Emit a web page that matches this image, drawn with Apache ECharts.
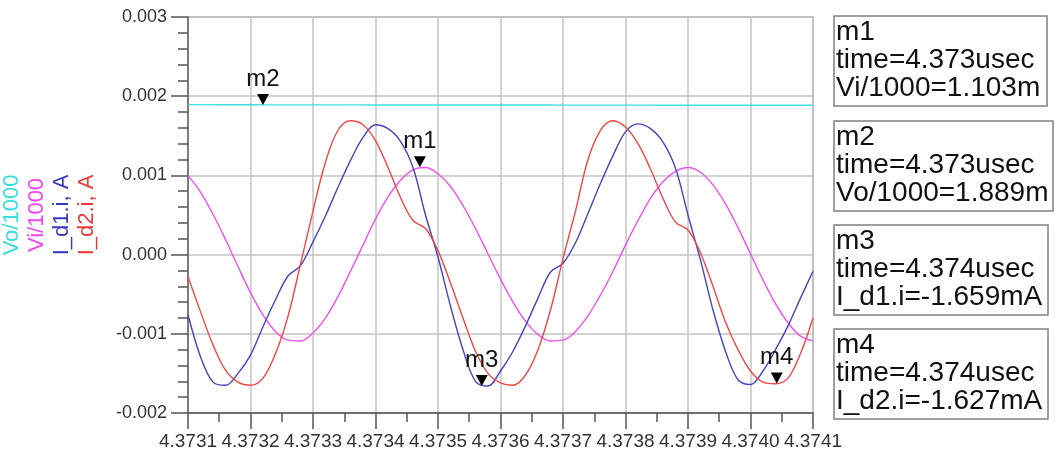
<!DOCTYPE html>
<html>
<head>
<meta charset="utf-8">
<script src="https://cdn.jsdelivr.net/npm/echarts@6/dist/echarts.min.js"></script>
<style>
html,body{margin:0;padding:0;background:#fff;}
#c{width:1063px;height:471px;}
</style>
</head>
<body>
<div id="c"></div>
<script>
// time axis samples (usec)
const times = [4.37310,4.37312,4.37314,4.37316,4.37318,4.37320,4.37322,4.37324,4.37326,4.37328,
4.37330,4.37332,4.37334,4.37336,4.37338,4.37340,4.37342,4.37344,4.37346,4.37348,
4.37350,4.37352,4.37354,4.37356,4.37358,4.37360,4.37362,4.37364,4.37366,4.37368,
4.37370,4.37372,4.37374,4.37376,4.37378,4.37380,4.37382,4.37384,4.37386,4.37388,
4.37390,4.37392,4.37394,4.37396,4.37398,4.37400,4.37402,4.37404,4.37406,4.37408,
4.37410];
// values in milli-units (x 0.001)
const voVals = [1.893,1.893,1.893,1.892,1.892,1.892,1.891,1.891,1.891,1.891,
1.890,1.890,1.890,1.890,1.890,1.889,1.889,1.889,1.889,1.889,
1.889,1.889,1.888,1.888,1.888,1.888,1.888,1.888,1.888,1.888,
1.887,1.887,1.887,1.887,1.887,1.887,1.887,1.887,1.886,1.886,
1.886,1.886,1.886,1.886,1.886,1.886,1.886,1.885,1.885,1.885,
1.885];
const viVals = [1.00,0.79,0.51,0.19,-0.15,-0.48,-0.76,-0.97,-1.08,-1.09,
-0.99,-0.80,-0.53,-0.21,0.12,0.45,0.73,0.94,1.07,1.10,
1.02,0.86,0.62,0.33,0.01,-0.31,-0.60,-0.84,-1.01,-1.09,
-1.08,-0.97,-0.77,-0.51,-0.21,0.12,0.43,0.71,0.92,1.05,
1.10,1.04,0.88,0.64,0.34,0.01,-0.32,-0.62,-0.86,-1.03,
-1.09];
const id1Vals = [-0.76,-1.29,-1.61,-1.65,-1.50,-1.27,-0.91,-0.57,-0.27,-0.14,
0.16,0.49,0.85,1.19,1.48,1.64,1.59,1.43,1.10,0.50,
-0.03,-0.65,-1.20,-1.60,-1.66,-1.47,-1.22,-0.90,-0.55,-0.22,
-0.11,0.15,0.52,0.90,1.25,1.55,1.65,1.59,1.42,1.09,
0.50,-0.07,-0.70,-1.22,-1.58,-1.64,-1.47,-1.20,-0.90,-0.55,
-0.21];
const id2Vals = [-0.28,-0.72,-1.14,-1.46,-1.61,-1.65,-1.56,-1.25,-0.78,-0.12,
0.55,1.17,1.57,1.69,1.64,1.44,1.10,0.72,0.43,0.33,
0.05,-0.36,-0.80,-1.22,-1.50,-1.62,-1.65,-1.52,-1.20,-0.70,
-0.05,0.55,1.20,1.57,1.69,1.61,1.40,1.08,0.71,0.41,
0.31,0.02,-0.40,-0.85,-1.20,-1.47,-1.61,-1.63,-1.56,-1.25,
-0.80];

const seriesNames = ['Vo/1000','Vi/1000','I_d1.i, A','I_d2.i, A'];
const seriesColors = ['#3fe0e0','#f050f0','#4444c4','#f04848'];

// markers
const markerNames = ['m1','m2','m3','m4'];
const markerSeries = [1,0,2,3];
const markerTimes = [4.373471,4.37322,4.373570,4.374042];
const markerValues = [1.103,1.889,-1.659,-1.627];
const markerTimeText = ['time=4.373usec','time=4.373usec','time=4.374usec','time=4.374usec'];
const markerReadout = ['Vi/1000=1.103m','Vo/1000=1.889m','I_d1.i=-1.659mA','I_d2.i=-1.627mA'];

const xTicks = {min:4.3731,max:4.3741,interval:0.0001};
const yTicks = {min:-0.002,max:0.003,interval:0.001};

const FONT = '"Liberation Sans", Arial, sans-serif';
const allVals = [voVals, viVals, id1Vals, id2Vals];

const series = allVals.map((vals, si) => {
  const s = {
    name: seriesNames[si],
    type: 'line',
    symbol: 'none',
    smooth: 0.35,
    lineStyle: {color: seriesColors[si], width: 1.4},
    data: times.map((t, i) => [t, vals[i] / 1000]),
    z: 3
  };
  const mp = [];
  markerSeries.forEach((ms, mi) => {
    if (ms === si) {
      mp.push({
        name: markerNames[mi],
        coord: [markerTimes[mi], markerValues[mi] / 1000],
        label: {formatter: markerNames[mi]}
      });
    }
  });
  if (mp.length) {
    s.markPoint = {
      symbol: 'triangle',
      symbolSize: [12, 11],
      symbolRotate: 180,
      symbolOffset: [0, '-50%'],
      itemStyle: {color: '#000'},
      label: {show: true, position: 'top', distance: 3, color: '#111', fontSize: 24, fontFamily: FONT},
      data: mp
    };
  }
  return s;
});

// marker readout boxes on the right
const boxTops = [16, 121, 225, 329];
const boxWidths = [213, 219, 214, 214];
const graphics = [];
markerNames.forEach((n, i) => {
  graphics.push({
    type: 'rect', x: 834, y: boxTops[i],
    shape: {x: 0, y: 0, width: boxWidths[i], height: 90},
    style: {fill: '#fff', stroke: '#808080', lineWidth: 1.5}
  });
  graphics.push({
    type: 'text', x: 836, y: boxTops[i] + 2,
    style: {text: n + '\n' + markerTimeText[i] + '\n' + markerReadout[i],
      fill: '#111', fontSize: 28, fontFamily: FONT, lineHeight: 28}
  });
});

const chart = echarts.init(document.getElementById('c'), null, {renderer: 'canvas'});
chart.setOption({
  animation: false,
  backgroundColor: '#fff',
  grid: {left: 188, right: 250, top: 17, bottom: 58, show: true, borderColor: '#999', borderWidth: 1.5,
    outerBoundsMode: 'none', containLabel: false},
  xAxis: {
    type: 'value', min: xTicks.min, max: xTicks.max, interval: xTicks.interval,
    axisLine: {show: true, onZero: false, lineStyle: {color: '#555', width: 1.5}},
    axisTick: {show: true, inside: false, length: 16, lineStyle: {color: '#555', width: 1.5}},
    minorTick: {show: true, splitNumber: 2, length: 9, lineStyle: {color: '#555', width: 1.5}},
    splitLine: {show: true, lineStyle: {color: '#c4c4c4', width: 1.5}},
    axisLabel: {color: '#333', fontSize: 19, fontFamily: FONT, margin: 19,
      formatter: v => v.toFixed(4), showMinLabel: true, showMaxLabel: true}
  },
  yAxis: {
    type: 'value', min: yTicks.min, max: yTicks.max, interval: yTicks.interval,
    axisLine: {show: true, onZero: false, lineStyle: {color: '#666', width: 1.5}},
    axisTick: {show: true, inside: false, length: 17, lineStyle: {color: '#555', width: 1.5}},
    minorTick: {show: true, splitNumber: 5, length: 10, lineStyle: {color: '#555', width: 1.5}},
    splitLine: {show: true, lineStyle: {color: '#c4c4c4', width: 1.5}},
    axisLabel: {color: '#333', fontSize: 18, fontFamily: FONT, margin: 21,
      formatter: v => v.toFixed(3)},
    name: seriesNames.map((n, i) => '{s' + i + '|' + n + '}').join('\n'),
    nameLocation: 'middle',
    nameRotate: 90,
    nameGap: 89,
    nameTextStyle: {
      fontSize: 22, fontFamily: FONT, lineHeight: 25,
      rich: {
        s0: {color: '#33dede', fontSize: 22, fontFamily: FONT, lineHeight: 25},
        s1: {color: '#ee44ee', fontSize: 22, fontFamily: FONT, lineHeight: 25},
        s2: {color: '#3838c0', fontSize: 22, fontFamily: FONT, lineHeight: 25},
        s3: {color: '#ee3838', fontSize: 22, fontFamily: FONT, lineHeight: 25}
      }
    }
  },
  series: series,
  graphic: graphics
});
</script>
</body>
</html>
